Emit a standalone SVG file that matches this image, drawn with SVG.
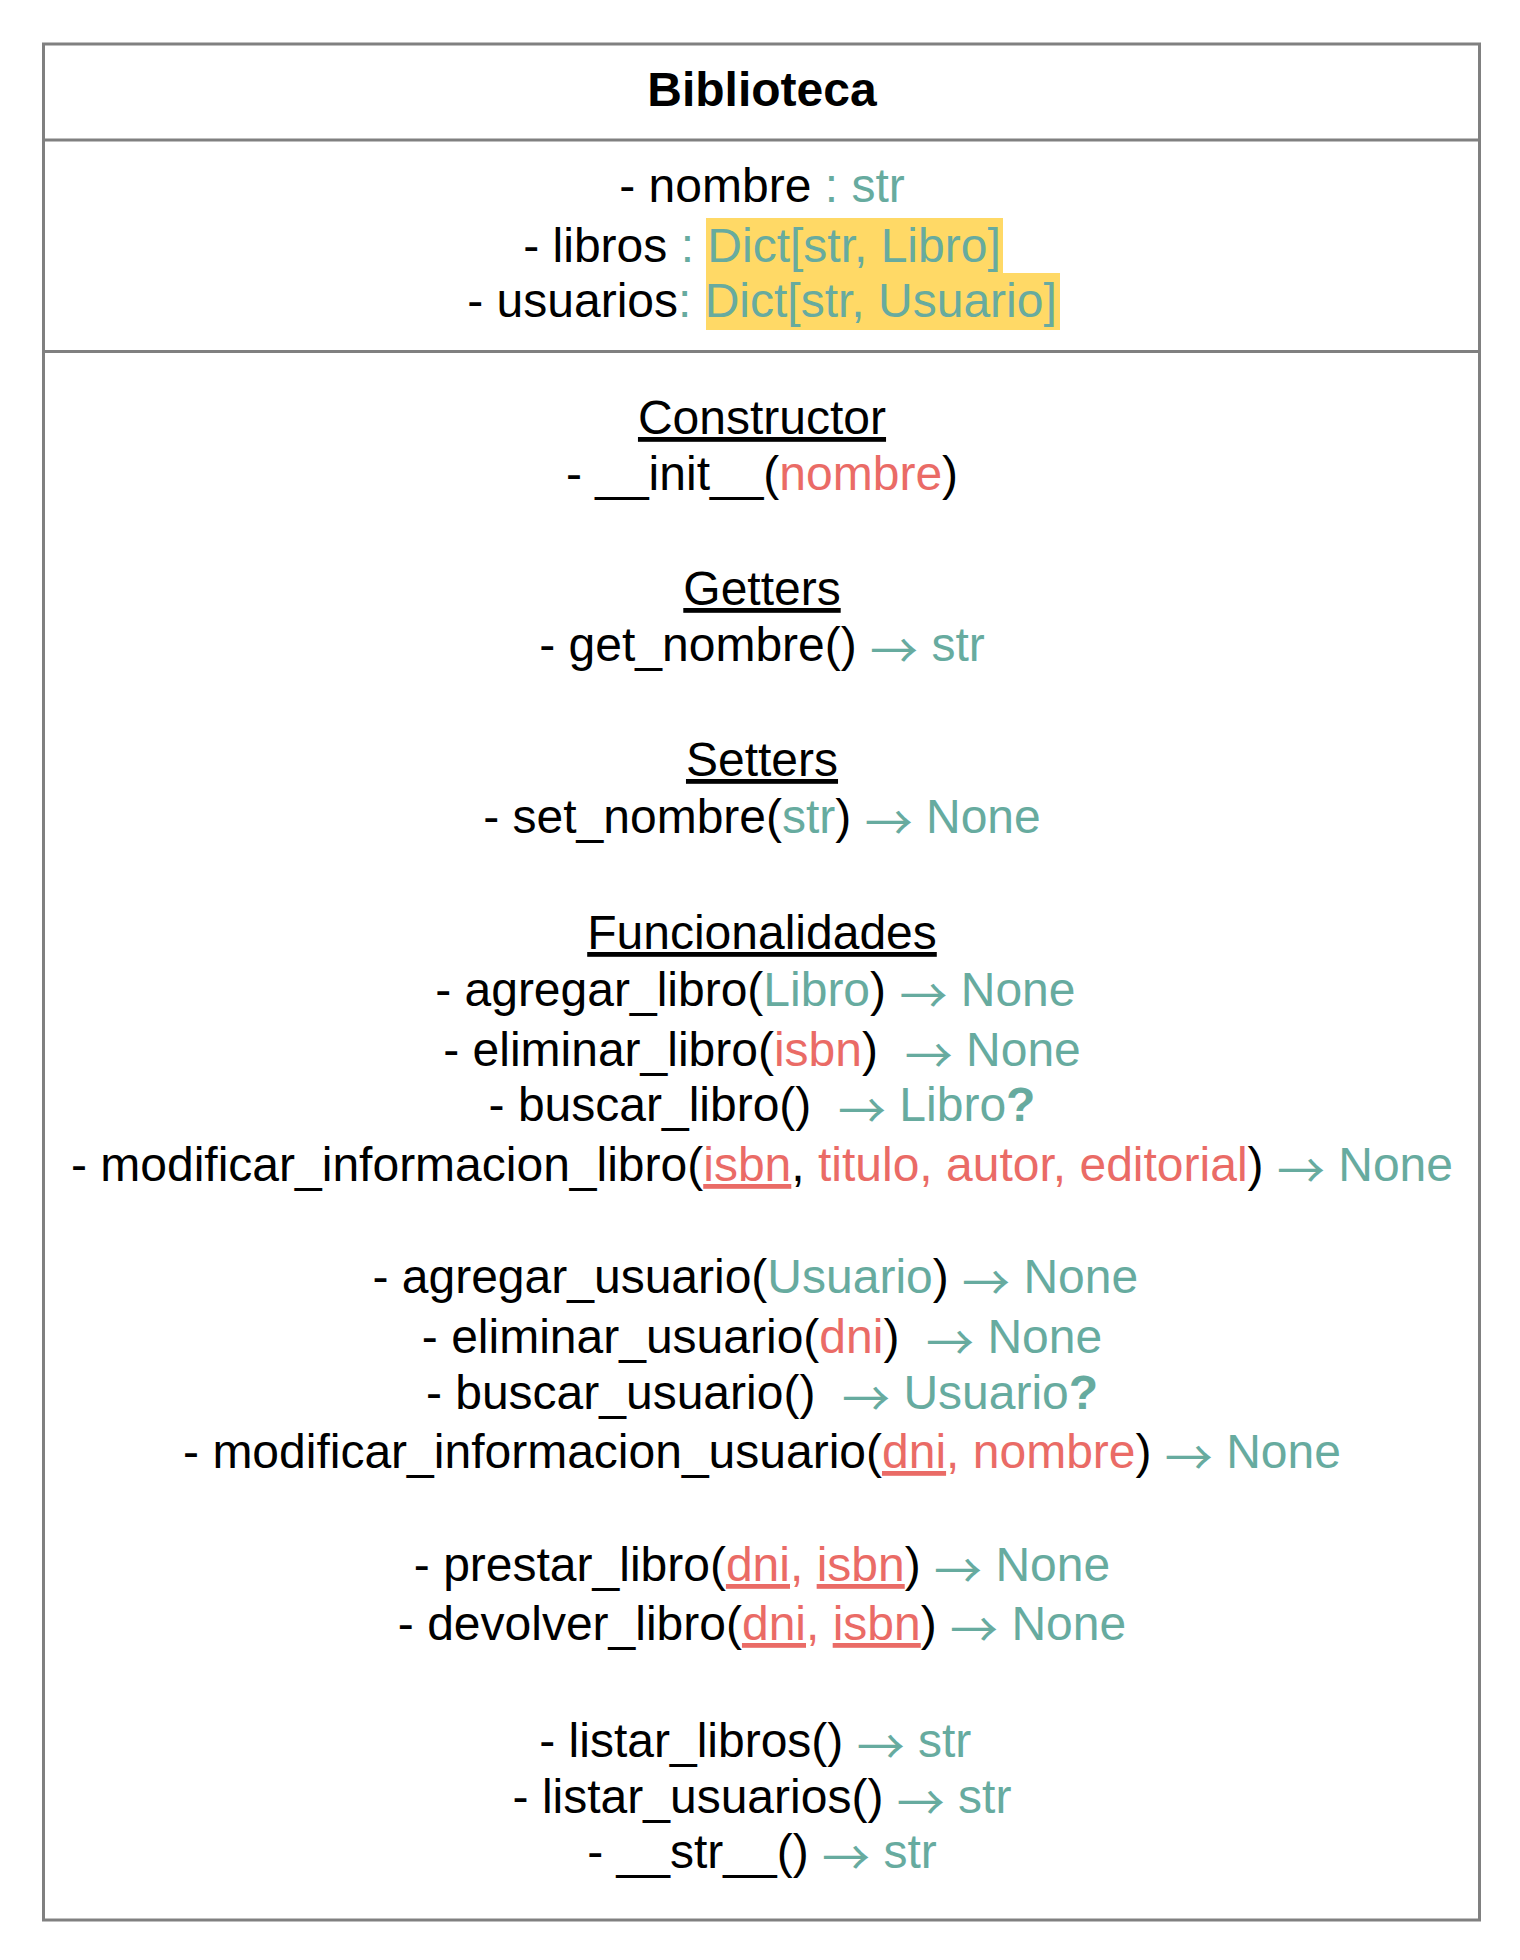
<svg xmlns="http://www.w3.org/2000/svg" width="1520" height="1960" viewBox="0 0 1520 1960">
<style>
text{font-family:"Liberation Sans",Arial,Helvetica,sans-serif;font-size:48px;fill:#000000;text-anchor:middle;white-space:pre}
.title{font-weight:bold}
.t{fill:#67AB9F}
.r{fill:#EA6B66}
.u{text-decoration:underline}
.b{font-weight:bold}
.a{font-family:"Noto Sans CJK JP","Noto Sans CJK SC",sans-serif}
.box{fill:#FFFFFF;stroke:#808080;stroke-width:3}
.div{stroke:#808080;stroke-width:3}
.hl{fill:#FFD966}
</style>
<rect x="0" y="0" width="1520" height="1960" fill="#FFFFFF"/>
<g id="connectors"/>
<g id="biblioteca">
<rect class="box" x="43.5" y="44" width="1436" height="1876"/>
<line class="div" x1="43.5" y1="140" x2="1479.5" y2="140"/>
<line class="div" x1="43.5" y1="351.5" x2="1479.5" y2="351.5"/>
<text class="title" x="762" y="106">Biblioteca</text>
<rect class="hl" x="706" y="218" width="297" height="55"/>
<rect class="hl" x="706" y="273" width="354" height="57"/>
<text x="762" y="202" xml:space="preserve">- nombre<tspan class="t"> : str</tspan></text>
<text x="762" y="262" xml:space="preserve">- libros <tspan class="t">: Dict[str, Libro]</tspan></text>
<text x="762" y="317" xml:space="preserve">- usuarios<tspan class="t">: Dict[str, Usuario]</tspan></text>
<text class="u" x="762" y="434">Constructor</text>
<text x="762" y="490" xml:space="preserve">- __init__(<tspan class="r">nombre</tspan>)</text>
<text class="u" x="762" y="605">Getters</text>
<text x="762" y="661" xml:space="preserve">- get_nombre() <tspan class="t"><tspan class="a" dy="7">→</tspan><tspan dy="-7"> str</tspan></tspan></text>
<text class="u" x="762" y="776">Setters</text>
<text x="762" y="833" xml:space="preserve">- set_nombre(<tspan class="t">str</tspan>) <tspan class="t"><tspan class="a" dy="7">→</tspan><tspan dy="-7"> None</tspan></tspan></text>
<text class="u" x="762" y="949">Funcionalidades</text>
<text x="762" y="1006" xml:space="preserve">- agregar_libro(<tspan class="t">Libro</tspan>) <tspan class="t"><tspan class="a" dy="7">→</tspan><tspan dy="-7"> None </tspan></tspan></text>
<text x="762" y="1066" xml:space="preserve">- eliminar_libro(<tspan class="r">isbn</tspan>)  <tspan class="t"><tspan class="a" dy="7">→</tspan><tspan dy="-7"> None</tspan></tspan></text>
<text x="762" y="1121" xml:space="preserve">- buscar_libro()  <tspan class="t"><tspan class="a" dy="7">→</tspan><tspan dy="-7"> Libro</tspan></tspan><tspan class="t b">?</tspan></text>
<text x="762" y="1181" xml:space="preserve">- modificar_informacion_libro(<tspan class="r u">isbn</tspan>, <tspan class="r">titulo, autor, editorial</tspan>) <tspan class="t"><tspan class="a" dy="7">→</tspan><tspan dy="-7"> None</tspan></tspan></text>
<text x="762" y="1293" xml:space="preserve">- agregar_usuario(<tspan class="t">Usuario</tspan>) <tspan class="t"><tspan class="a" dy="7">→</tspan><tspan dy="-7"> None </tspan></tspan></text>
<text x="762" y="1353" xml:space="preserve">- eliminar_usuario(<tspan class="r">dni</tspan>)  <tspan class="t"><tspan class="a" dy="7">→</tspan><tspan dy="-7"> None</tspan></tspan></text>
<text x="762" y="1409" xml:space="preserve">- buscar_usuario()  <tspan class="t"><tspan class="a" dy="7">→</tspan><tspan dy="-7"> Usuario</tspan></tspan><tspan class="t b">?</tspan></text>
<text x="762" y="1468" xml:space="preserve">- modificar_informacion_usuario(<tspan class="r u">dni</tspan><tspan class="r">, nombre</tspan>) <tspan class="t"><tspan class="a" dy="7">→</tspan><tspan dy="-7"> None</tspan></tspan></text>
<text x="762" y="1581" xml:space="preserve">- prestar_libro(<tspan class="r u">dni</tspan><tspan class="r">, </tspan><tspan class="r u">isbn</tspan>) <tspan class="t"><tspan class="a" dy="7">→</tspan><tspan dy="-7"> None</tspan></tspan></text>
<text x="762" y="1640" xml:space="preserve">- devolver_libro(<tspan class="r u">dni</tspan><tspan class="r">, </tspan><tspan class="r u">isbn</tspan>) <tspan class="t"><tspan class="a" dy="7">→</tspan><tspan dy="-7"> None</tspan></tspan></text>
<text x="762" y="1757" xml:space="preserve">- listar_libros() <tspan class="t"><tspan class="a" dy="7">→</tspan><tspan dy="-7"> str </tspan></tspan></text>
<text x="762" y="1813" xml:space="preserve">- listar_usuarios() <tspan class="t"><tspan class="a" dy="7">→</tspan><tspan dy="-7"> str</tspan></tspan></text>
<text x="762" y="1868" xml:space="preserve">- __str__() <tspan class="t"><tspan class="a" dy="7">→</tspan><tspan dy="-7"> str</tspan></tspan></text>
</g>
</svg>
